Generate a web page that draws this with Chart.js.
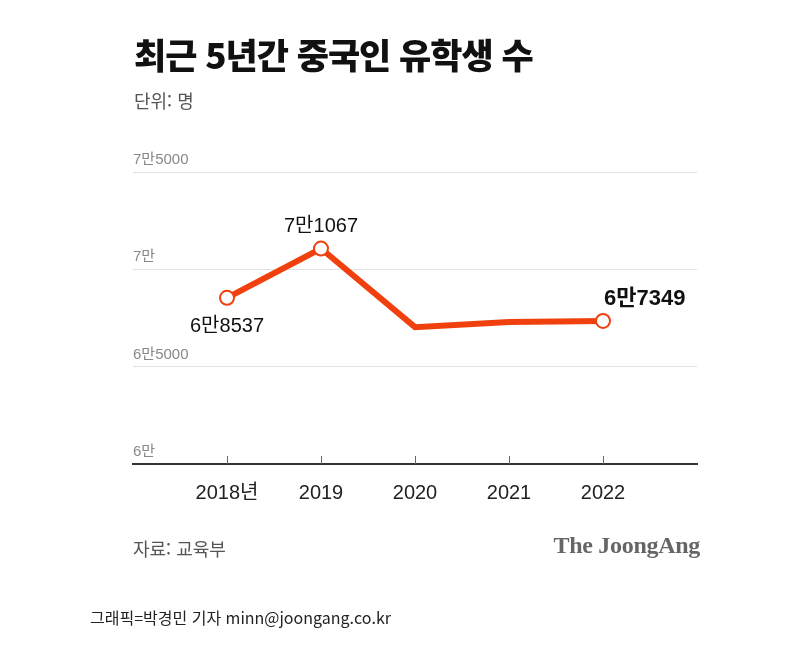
<!DOCTYPE html>
<html lang="ko">
<head>
<meta charset="utf-8">
<script src="https://cdn.jsdelivr.net/npm/chart.js@4/dist/chart.umd.min.js"></script>
<style>
  body { margin: 0; background: #fff; font-family: 'Noto Sans CJK KR', sans-serif; }
  #wrap { position: relative; width: 812px; height: 648px; }
  #chart { position: absolute; left: 0; top: 0; }
  .txt { position: absolute; white-space: nowrap; }
  #title { left: 134px; top: 28px; font-size: 35px; font-weight: 900; color: #111; letter-spacing: -1px; }
  #unit { left: 134px; top: 87px; font-size: 18px; color: #555; }
  #source { left: 133px; top: 535px; font-size: 18px; color: #555; }
  #logo { right: 112px; top: 532px; font-family: 'Liberation Serif', serif; font-weight: bold; font-size: 24px; color: #666; letter-spacing: -0.3px; }
  #credit { left: 90px; top: 605px; font-size: 16px; color: #222; }
</style>
</head>
<body>
<div id="wrap">
  <canvas id="chart" width="812" height="648"></canvas>
  <div class="txt" id="title">최근 5년간 중국인 유학생 수</div>
  <div class="txt" id="unit">단위: 명</div>
  <div class="txt" id="source">자료: 교육부</div>
  <div class="txt" id="logo">The JoongAng</div>
  <div class="txt" id="credit">그래픽=박경민 기자 minn@joongang.co.kr</div>
</div>
<script>
const years = ['2018년', '2019', '2020', '2021', '2022'];
const students = [68537, 71067, 67030, 67300, 67349];
const yTicks = [60000, 65000, 70000, 75000];
// only these points get a marker and a label
const labelled = [true, true, false, false, true];

const RED = '#f0400e';
const NUM_FONT = "'Liberation Sans', 'Noto Sans CJK KR', sans-serif";

function toKorean(v) {
    const man = Math.floor(v / 10000);
    const rest = v % 10000;
    return rest ? man + '만' + rest : man + '만';
}

// blank slot before and after so the line sits inside the axis
const labels = ['', ...years, ''];
const values = [null, ...students, null];
const radii = [0, ...labelled.map(f => f ? 7 : 0), 0];

const valueLabels = {
    id: 'valueLabels',
    afterDatasetsDraw(chart) {
        const ctx = chart.ctx;
        const meta = chart.getDatasetMeta(0);
        ctx.save();
        ctx.fillStyle = '#111';
        ctx.textBaseline = 'middle';
        students.forEach((v, i) => {
            if (!labelled[i]) return;
            const pt = meta.data[i + 1];
            const last = i === students.length - 1;
            ctx.font = (last ? 'bold 22px ' : '20px ') + NUM_FONT;
            ctx.textAlign = last ? 'left' : 'center';
            let x = pt.x, y = pt.y;
            if (last) { x += 1; y -= 22; }
            else if (i === 0) { y += 29; }
            else { y -= 22; }
            ctx.fillText(toKorean(v), x, y);
        });
        ctx.restore();
    }
};

const xTickMarks = {
    id: 'xTickMarks',
    afterDraw(chart) {
        const ctx = chart.ctx;
        const x = chart.scales.x;
        const bottom = chart.chartArea.bottom;
        ctx.save();
        ctx.strokeStyle = '#666';
        ctx.lineWidth = 1;
        years.forEach((_, i) => {
            const px = Math.round(x.getPixelForValue(i + 1)) + 0.5;
            ctx.beginPath();
            ctx.moveTo(px, bottom - 8);
            ctx.lineTo(px, bottom);
            ctx.stroke();
        });
        ctx.restore();
    }
};

new Chart(document.getElementById('chart'), {
    type: 'line',
    data: {
        labels: labels,
        datasets: [{
            data: values,
            borderColor: RED,
            borderWidth: 6,
            borderJoinStyle: 'miter',
            tension: 0,
            pointRadius: radii,
            pointHoverRadius: radii,
            pointBackgroundColor: '#fff',
            pointBorderColor: RED,
            pointBorderWidth: 2
        }]
    },
    options: {
        responsive: false,
        animation: false,
        layout: { padding: { left: 133, right: 115, top: 172, bottom: 134 } },
        plugins: { legend: { display: false }, tooltip: { enabled: false } },
        scales: {
            x: {
                grid: { display: false },
                border: { color: '#333', width: 2 },
                ticks: {
                    color: '#222',
                    font: { size: 20, family: NUM_FONT },
                    padding: 9,
                    autoSkip: false,
                    maxRotation: 0
                }
            },
            y: {
                min: 60000,
                max: 75000,
                afterBuildTicks: axis => { axis.ticks = yTicks.map(v => ({ value: v })); },
                afterFit: axis => { axis.width = 0; },
                border: { display: false },
                grid: { color: '#e2e2e2', lineWidth: 1, drawTicks: false },
                ticks: {
                    mirror: true,
                    padding: 0,
                    labelOffset: -12,
                    color: '#888',
                    font: { size: 15, family: NUM_FONT },
                    callback: v => toKorean(v)
                }
            }
        }
    },
    plugins: [valueLabels, xTickMarks]
});
</script>
</body>
</html>
